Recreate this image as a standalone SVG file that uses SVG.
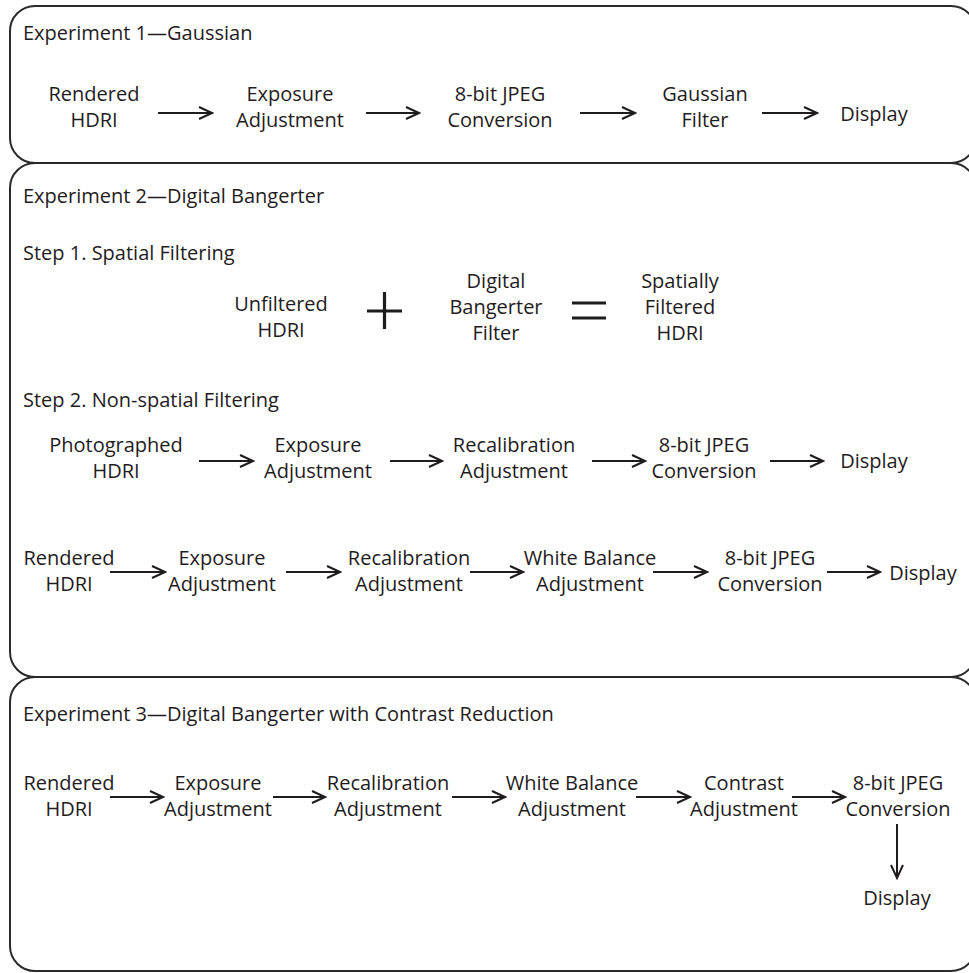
<svg xmlns="http://www.w3.org/2000/svg" width="969" height="973" viewBox="0 0 969 973">
<style>
text{font-family:"Open Sans","Noto Sans","Liberation Sans",sans-serif;font-size:20px;fill:#1f1c1d}
.c{text-anchor:middle}
.box{fill:none;stroke:#2a2a2a;stroke-width:2}
.ar{stroke:#1f1c1d;stroke-width:2;fill:none;marker-end:url(#ah)}
.sym{stroke:#1f1c1d;stroke-width:3.2;fill:none}
</style>
<defs>
<marker id="ah" markerUnits="userSpaceOnUse" markerWidth="16" markerHeight="16" viewBox="-14 -8 16 16" refX="0" refY="0" orient="auto">
<path d="M-13,-6 L0,0 L-13,6" fill="none" stroke="#1f1c1d" stroke-width="2"/>
</marker>
</defs>
<rect width="969" height="973" fill="#fff"/>
<g id="frames">
<rect class="box" x="10" y="6" width="966" height="157" rx="25"/>
<rect class="box" x="10" y="163" width="966" height="514" rx="25"/>
<rect class="box" x="10" y="677" width="966" height="294" rx="25"/>
</g>
<g id="exp1">
<text x="23" y="40">Experiment 1—Gaussian</text>
<g id="e1n1"><text class="c" x="94" y="101"><tspan x="94">Rendered</tspan><tspan x="94" dy="26">HDRI</tspan></text></g>
<g id="e1n2"><text class="c" x="290" y="101"><tspan x="290">Exposure</tspan><tspan x="290" dy="26">Adjustment</tspan></text></g>
<g id="e1n3"><text class="c" x="500" y="101"><tspan x="500">8-bit JPEG</tspan><tspan x="500" dy="26">Conversion</tspan></text></g>
<g id="e1n4"><text class="c" x="705" y="101"><tspan x="705">Gaussian</tspan><tspan x="705" dy="26">Filter</tspan></text></g>
<g id="e1n5"><text class="c" x="874" y="121">Display</text></g>
</g>
<g id="exp2">
<text x="23" y="203">Experiment 2—Digital Bangerter</text>
<text x="23" y="260">Step 1. Spatial Filtering</text>
<g id="s1n1"><text class="c" x="281" y="311"><tspan x="281">Unfiltered</tspan><tspan x="281" dy="26">HDRI</tspan></text></g>
<g id="plus"><path class="sym" d="M367,311 H402 M384.5,292 V329"/></g>
<g id="s1n2"><text class="c" x="496" y="288"><tspan x="496">Digital</tspan><tspan x="496" dy="26">Bangerter</tspan><tspan x="496" dy="26">Filter</tspan></text></g>
<g id="equals"><path class="sym" d="M572,303 H606 M572,318 H606"/></g>
<g id="s1n3"><text class="c" x="680" y="288"><tspan x="680">Spatially</tspan><tspan x="680" dy="26">Filtered</tspan><tspan x="680" dy="26">HDRI</tspan></text></g>
<text x="23" y="407">Step 2. Non-spatial Filtering</text>
<g id="ran1"><text class="c" x="116" y="452"><tspan x="116">Photographed</tspan><tspan x="116" dy="26">HDRI</tspan></text></g>
<g id="ran2"><text class="c" x="318" y="452"><tspan x="318">Exposure</tspan><tspan x="318" dy="26">Adjustment</tspan></text></g>
<g id="ran3"><text class="c" x="514" y="452"><tspan x="514">Recalibration</tspan><tspan x="514" dy="26">Adjustment</tspan></text></g>
<g id="ran4"><text class="c" x="704" y="452"><tspan x="704">8-bit JPEG</tspan><tspan x="704" dy="26">Conversion</tspan></text></g>
<g id="ran5"><text class="c" x="874" y="468">Display</text></g>
<g id="rbn1"><text class="c" x="69" y="565"><tspan x="69">Rendered</tspan><tspan x="69" dy="26">HDRI</tspan></text></g>
<g id="rbn2"><text class="c" x="222" y="565"><tspan x="222">Exposure</tspan><tspan x="222" dy="26">Adjustment</tspan></text></g>
<g id="rbn3"><text class="c" x="409" y="565"><tspan x="409">Recalibration</tspan><tspan x="409" dy="26">Adjustment</tspan></text></g>
<g id="rbn4"><text class="c" x="590" y="565"><tspan x="590">White Balance</tspan><tspan x="590" dy="26">Adjustment</tspan></text></g>
<g id="rbn5"><text class="c" x="770" y="565"><tspan x="770">8-bit JPEG</tspan><tspan x="770" dy="26">Conversion</tspan></text></g>
<g id="rbn6"><text class="c" x="923" y="580">Display</text></g>
</g>
<g id="exp3">
<text x="23" y="721">Experiment 3—Digital Bangerter with Contrast Reduction</text>
<g id="e3n1"><text class="c" x="69" y="790"><tspan x="69">Rendered</tspan><tspan x="69" dy="26">HDRI</tspan></text></g>
<g id="e3n2"><text class="c" x="218" y="790"><tspan x="218">Exposure</tspan><tspan x="218" dy="26">Adjustment</tspan></text></g>
<g id="e3n3"><text class="c" x="388" y="790"><tspan x="388">Recalibration</tspan><tspan x="388" dy="26">Adjustment</tspan></text></g>
<g id="e3n4"><text class="c" x="572" y="790"><tspan x="572">White Balance</tspan><tspan x="572" dy="26">Adjustment</tspan></text></g>
<g id="e3n5"><text class="c" x="744" y="790"><tspan x="744">Contrast</tspan><tspan x="744" dy="26">Adjustment</tspan></text></g>
<g id="e3n6"><text class="c" x="898" y="790"><tspan x="898">8-bit JPEG</tspan><tspan x="898" dy="26">Conversion</tspan></text></g>
<g id="e3n7"><text class="c" x="897" y="905">Display</text></g>
</g>
<g id="connectors">
<path class="ar" d="M158,113 H212"/>
<path class="ar" d="M366,113 H419"/>
<path class="ar" d="M580,113 H635"/>
<path class="ar" d="M762,113 H817"/>
<path class="ar" d="M199,461 H253"/>
<path class="ar" d="M390,461 H442"/>
<path class="ar" d="M592,461 H645"/>
<path class="ar" d="M770,461 H823"/>
<path class="ar" d="M110,572 H165"/>
<path class="ar" d="M286,572 H340"/>
<path class="ar" d="M470,572 H523"/>
<path class="ar" d="M653,572 H707"/>
<path class="ar" d="M827,572 H880"/>
<path class="ar" d="M110,797 H163"/>
<path class="ar" d="M273,797 H325"/>
<path class="ar" d="M452,797 H505"/>
<path class="ar" d="M636,797 H690"/>
<path class="ar" d="M792,797 H845"/>
<path class="ar" d="M897,824 V878"/>
</g>
</svg>
